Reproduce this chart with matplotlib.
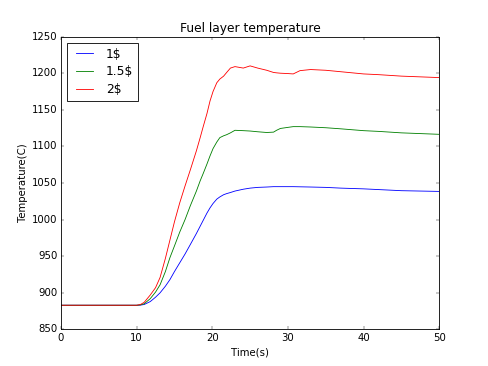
import matplotlib
matplotlib.use("Agg")
import matplotlib.pyplot as plt

plt.style.use("classic")

time = [0, 5, 10, 10.5, 11, 11.8, 12.5, 13.1, 13.8, 14.4, 15.0, 15.7, 16.4, 17.1, 17.9,
        18.4, 18.8, 19.3, 19.7, 20.1, 20.6, 21.0, 21.5, 21.9, 22.4, 23, 24.1, 25, 26, 27.2,
        28.1, 28.5, 29, 30, 30.7, 31.6, 33, 35, 37, 40, 42, 45, 50]

temp_1 = [883, 883, 883, 883.2, 884, 888, 894, 900, 909, 918, 929, 941, 953, 966, 981,
          991, 999, 1009, 1016, 1022, 1028, 1031, 1034, 1035.5, 1037, 1039, 1041.5, 1043, 1044, 1044.5,
          1045, 1045, 1045, 1045, 1045, 1044.8, 1044.5, 1044, 1043, 1042, 1041, 1039.5, 1038.5]

temp_15 = [883, 883, 883, 883.5, 885, 892, 901, 911, 929, 948, 964, 983, 1000, 1019, 1039,
           1053, 1063, 1076, 1087, 1097, 1106, 1112, 1114.5, 1116, 1118.5, 1122, 1121.5, 1121, 1120, 1119,
           1119.5, 1122, 1124.5, 1126, 1127, 1127, 1126.5, 1125.5, 1124, 1121.5, 1120.5, 1118.5, 1116.5]

temp_2 = [883, 883, 883, 884, 887, 897, 907, 921, 947, 972, 997, 1023, 1046, 1068, 1094,
          1112, 1127, 1145, 1162, 1175, 1187, 1192, 1196, 1201, 1207, 1209, 1207, 1210, 1207, 1204,
          1201, 1200.5, 1200, 1199.5, 1199, 1203.5, 1205, 1204, 1202, 1199, 1198, 1196, 1194]

labels = ["1\\$", "1.5\\$", "2\\$"]

fig = plt.figure(figsize=(8, 6), dpi=61)
ax = fig.add_subplot(111)
ax.plot(time, temp_1, color="b", label=labels[0])
ax.plot(time, temp_15, color="g", label=labels[1])
ax.plot(time, temp_2, color="r", label=labels[2])
ax.set_xlim(0, 50)
ax.set_ylim(850, 1250)
ax.set_title("Fuel layer temperature")
ax.set_xlabel("Time(s)")
ax.set_ylabel("Temperature(C)")
ax.legend(loc="upper left", labelspacing=0.4)
fig.savefig("out.png", dpi=61)
